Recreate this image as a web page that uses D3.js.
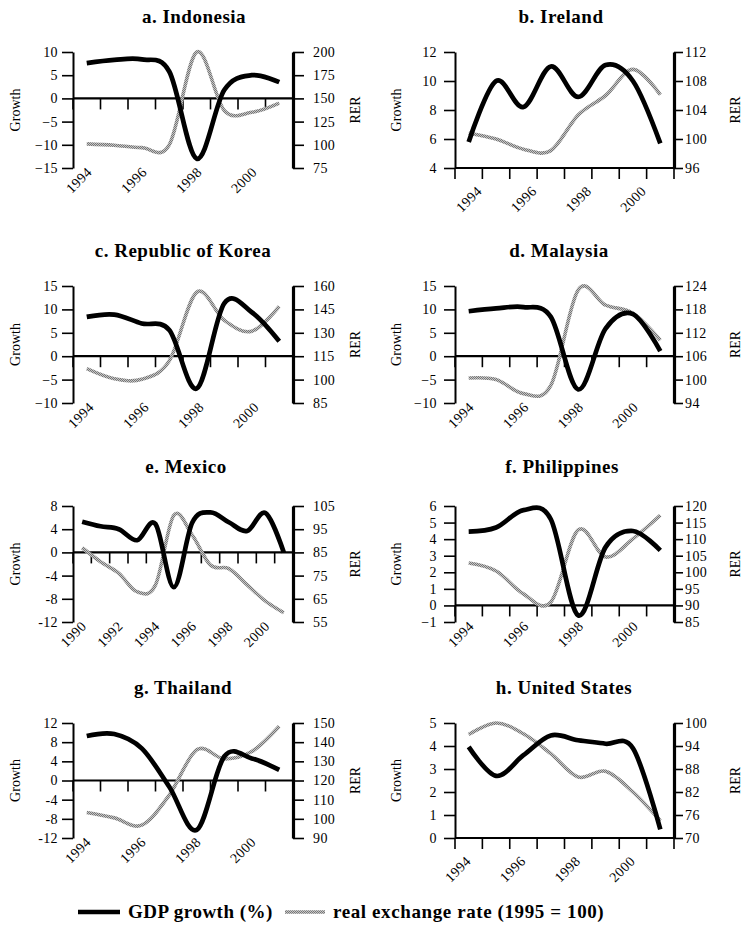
<!DOCTYPE html>
<html>
<head>
<meta charset="utf-8">
<script src="https://cdn.jsdelivr.net/npm/d3@7"></script>
<style>
  body { margin: 0; background: #fff; }
  text { font-family: "Liberation Serif", "Times New Roman", serif; fill: #000; }
</style>
</head>
<body>
<svg id="chart" width="742" height="933"></svg>
<script>
// years on the category axis
const years94 = [1994, 1995, 1996, 1997, 1998, 1999, 2000, 2001]
const years90 = [1990, 1991, 1992, 1993, 1994, 1995, 1996, 1997, 1998, 1999, 2000, 2001]

// GDP growth (%) and real exchange rate (1995 = 100)
const indonesiaGdp = [7.6, 8.3, 8.4, 5.8, -13.0, 1.8, 5.0, 3.5]
const indonesiaRer = [101, 99.5, 97, 100, 200, 137, 135, 145]
const irelandGdp = [5.8, 10.0, 8.2, 11.0, 8.9, 11.1, 10.0, 5.7]
const irelandRer = [100.8, 100.0, 98.6, 98.4, 103.3, 106.0, 109.6, 106.1]
const koreaGdp = [8.4, 8.9, 7.0, 5.6, -6.9, 11.3, 9.4, 3.2]
const koreaRer = [107, 100.6, 100.2, 112, 156, 138, 131, 147]
const malaysiaGdp = [9.6, 10.2, 10.5, 8.4, -7.1, 5.9, 9.0, 1.1]
const malaysiaRer = [100.4, 100, 96.4, 98.5, 123, 119.1, 117, 110.1]
const mexicoGdp = [5.3, 4.5, 4.0, 2.1, 4.9, -6.0, 5.1, 6.9, 5.2, 3.7, 6.8, 0.0]
const mexicoRer = [87, 81, 76, 68, 71, 101, 92.5, 79.5, 78, 71, 64, 59]
const philippinesGdp = [4.45, 4.7, 5.75, 5.2, -0.6, 3.52, 4.49, 3.32]
const philippinesRer = [102.8, 100.4, 93.5, 91.0, 112.8, 104.6, 110.1, 117.2]
const thailandGdp = [9.3, 9.7, 6.7, -1.3, -10.3, 5.0, 4.6, 2.2]
const thailandRer = [103.3, 100.5, 96.7, 112.4, 136, 131.3, 135.1, 148.3]
const usGdp = [3.96, 2.7, 3.6, 4.46, 4.25, 4.1, 3.9, 0.38]
const usRer = [97, 100, 97.2, 92, 85.9, 87.4, 82, 74.5]

// axis ticks
const indonesiaGrowthTicks = [-15, -10, -5, 0, 5, 10]
const indonesiaRerTicks = [75, 100, 125, 150, 175, 200]
const irelandGrowthTicks = [4, 6, 8, 10, 12]
const irelandRerTicks = [96, 100, 104, 108, 112]
const koreaGrowthTicks = [-10, -5, 0, 5, 10, 15]
const koreaRerTicks = [85, 100, 115, 130, 145, 160]
const malaysiaGrowthTicks = [-10, -5, 0, 5, 10, 15]
const malaysiaRerTicks = [94, 100, 106, 112, 118, 124]
const mexicoGrowthTicks = [-12, -8, -4, 0, 4, 8]
const mexicoRerTicks = [55, 65, 75, 85, 95, 105]
const philippinesGrowthTicks = [-1, 0, 1, 2, 3, 4, 5, 6]
const philippinesRerTicks = [85, 90, 95, 100, 105, 110, 115, 120]
const thailandGrowthTicks = [-12, -8, -4, 0, 4, 8, 12]
const thailandRerTicks = [90, 100, 110, 120, 130, 140, 150]
const usGrowthTicks = [0, 1, 2, 3, 4, 5]
const usRerTicks = [70, 76, 82, 88, 94, 100]

const titles = ["a. Indonesia", "b. Ireland", "c. Republic of Korea", "d. Malaysia",
                "e. Mexico", "f. Philippines", "g. Thailand", "h. United States"]

//Layout of the two columns and four rows
const cols = [
  {left: 73, right: 293, titleX: 186, growthX: 20, rerX: 360, leftPad: 4, rightSize: 11, rightPad: 9},
  {left: 455, right: 674, titleX: 561, growthX: 401, rerX: 740, leftPad: 7, rightSize: 9, rightPad: 2}
]
const rows = [
  {top: 52, bottom: 168, titleY: 23},
  {top: 286, bottom: 403, titleY: 257},
  {top: 506, bottom: 622, titleY: 473},
  {top: 723, bottom: 838, titleY: 694}
]

const panels = [
  {years: years94, gdp: indonesiaGdp, rer: indonesiaRer, gt: indonesiaGrowthTicks, rt: indonesiaRerTicks, minus: "\u2212", dx: 6, tdx: 8},
  {years: years94, gdp: irelandGdp, rer: irelandRer, gt: irelandGrowthTicks, rt: irelandRerTicks, minus: "\u2212", dx: 14, tdx: 0},
  {years: years94, gdp: koreaGdp, rer: koreaRer, gt: koreaGrowthTicks, rt: koreaRerTicks, minus: "\u2212", dx: 8, tdx: -3},
  {years: years94, gdp: malaysiaGdp, rer: malaysiaRer, gt: malaysiaGrowthTicks, rt: malaysiaRerTicks, minus: "\u2212", dx: 6, tdx: -2},
  {years: years90, gdp: mexicoGdp, rer: mexicoRer, gt: mexicoGrowthTicks, rt: mexicoRerTicks, minus: "-", dx: 5, tdx: 0},
  {years: years94, gdp: philippinesGdp, rer: philippinesRer, gt: philippinesGrowthTicks, rt: philippinesRerTicks, minus: "\u2212", dx: 6, tdx: 1},
  {years: years94, gdp: thailandGdp, rer: thailandRer, gt: thailandGrowthTicks, rt: thailandRerTicks, minus: "-", dx: 5, tdx: -3},
  {years: years94, gdp: usGdp, rer: usRer, gt: usGrowthTicks, rt: usRerTicks, minus: "\u2212", dx: 3, tdx: 3}
]

const svg = d3.select("#chart")

//Textured grey stroke for the exchange rate line
const pat = svg.append("defs").append("pattern")
  .attr("id", "hatch")
  .attr("patternUnits", "userSpaceOnUse")
  .attr("width", 2).attr("height", 2)
pat.append("rect").attr("width", 2).attr("height", 2).attr("fill", "#c6c6c6")
pat.append("rect").attr("width", 1).attr("height", 1).attr("fill", "#767676")
pat.append("rect").attr("x", 1).attr("y", 1).attr("width", 1).attr("height", 1).attr("fill", "#767676")

function styleAxis(g, width) {
  g.attr("font-family", null).attr("font-size", null)
  g.select(".domain").attr("stroke-width", width)
  g.selectAll(".tick line").attr("stroke-width", 1.6)
  g.selectAll(".tick text").style("font-size", "14px").style("letter-spacing", "0.4px")
}

panels.forEach(function(p, i) {
  let col = cols[i % 2]
  let row = rows[Math.floor(i / 2)]
  let fmt = function(v) { return v < 0 ? p.minus + Math.abs(v) : String(v) }

  let x = d3.scaleBand().domain(p.years).range([col.left, col.right])
  let yL = d3.scaleLinear().domain(d3.extent(p.gt)).range([row.bottom, row.top])
  let yR = d3.scaleLinear().domain(d3.extent(p.rt)).range([row.bottom, row.top])
  let g = svg.append("g")

  //title
  g.append("text")
    .attr("x", col.titleX + p.tdx).attr("y", row.titleY)
    .attr("text-anchor", "middle")
    .style("font-size", "19px").style("font-weight", "bold").style("letter-spacing", "0.5px")
    .text(titles[i])

  //left and right axes
  g.append("g")
    .attr("transform", "translate(" + col.left + ",0)")
    .call(d3.axisLeft(yL).tickValues(p.gt).tickSize(11).tickSizeOuter(0).tickPadding(col.leftPad).tickFormat(fmt))
    .call(styleAxis, 2)
  g.append("g")
    .attr("transform", "translate(" + col.right + ",0)")
    .call(d3.axisRight(yR).tickValues(p.rt).tickSize(col.rightSize).tickSizeOuter(0).tickPadding(col.rightPad))
    .call(styleAxis, 3.2)

  //category axis crosses at zero, ticks between the years
  let y0 = yL(Math.max(0, yL.domain()[0]))
  let atBottom = yL.domain()[0] >= 0
  g.append("line")
    .attr("x1", col.left).attr("x2", col.right)
    .attr("y1", y0).attr("y2", y0)
    .attr("stroke", "#000").attr("stroke-width", 2.2)
  let bounds = p.years.map(function(d) { return x(d) }).concat([x.range()[1]])
  g.selectAll(".xtick")
    .data(bounds)
    .enter().append("line")
    .attr("x1", function(d) { return d }).attr("x2", function(d) { return d })
    .attr("y1", y0).attr("y2", y0 + 11)
    .attr("stroke", "#000").attr("stroke-width", 1.6)

  //year labels every other year at the bottom of the plot
  let labelY = row.bottom + (atBottom ? 24 : 5)
  g.selectAll(".year")
    .data(p.years.filter(function(d, k) { return k % 2 == 0 }))
    .enter().append("text")
    .attr("text-anchor", "end")
    .attr("transform", function(d) {
      return "translate(" + (x(d) + x.bandwidth() / 2 + p.dx) + "," + labelY + ") rotate(-45)"
    })
    .style("font-size", "14px").style("letter-spacing", "0.4px")
    .text(function(d) { return d })

  //axis titles
  g.append("text")
    .attr("transform", "translate(" + col.growthX + "," + ((row.top + row.bottom) / 2) + ") rotate(-90)")
    .attr("text-anchor", "middle").style("font-size", "14px")
    .text("Growth")
  g.append("text")
    .attr("transform", "translate(" + col.rerX + "," + ((row.top + row.bottom) / 2) + ") rotate(-90)")
    .attr("text-anchor", "middle").style("font-size", "14px")
    .text("RER")

  //the two smoothed lines
  let cx = function(k) { return x(p.years[k]) + x.bandwidth() / 2 }
  let rerLine = d3.line()
    .x(function(d, k) { return cx(k) })
    .y(function(d) { return yR(d) })
    .curve(d3.curveCardinal.tension(0))
  let gdpLine = d3.line()
    .x(function(d, k) { return cx(k) })
    .y(function(d) { return yL(d) })
    .curve(d3.curveCardinal.tension(0))

  g.append("path")
    .attr("d", rerLine(p.rer))
    .attr("fill", "none").attr("stroke", "url(#hatch)").attr("stroke-width", 3.6)
  g.append("path")
    .attr("d", gdpLine(p.gdp))
    .attr("fill", "none").attr("stroke", "#000").attr("stroke-width", 4.7)
    .attr("stroke-linejoin", "round")
})

//Legend
const legend = svg.append("g")
legend.append("line")
  .attr("x1", 78).attr("x2", 120).attr("y1", 912).attr("y2", 912)
  .attr("stroke", "#000").attr("stroke-width", 4.7)
legend.append("text")
  .attr("x", 128).attr("y", 918)
  .style("font-size", "19px").style("font-weight", "bold").style("letter-spacing", "0.5px")
  .text("GDP growth (%)")
legend.append("line")
  .attr("x1", 285).attr("x2", 325).attr("y1", 912).attr("y2", 912)
  .attr("stroke", "url(#hatch)").attr("stroke-width", 3.6)
legend.append("text")
  .attr("x", 333).attr("y", 918)
  .style("font-size", "19px").style("font-weight", "bold").style("letter-spacing", "0.6px")
  .text("real exchange rate (1995 = 100)")
</script>
</body>
</html>
